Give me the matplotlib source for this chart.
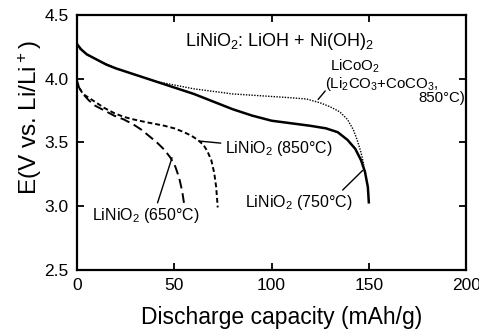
import matplotlib
matplotlib.use('Agg')
import matplotlib.pyplot as plt

plt.rcParams['font.family'] = ['Liberation Sans', 'DejaVu Sans']

# LiNiO2 (750C) - solid
cap_750 = [0, 2, 5, 10, 15, 20, 30, 40, 50, 60, 70, 80, 90, 100, 110, 120, 128,
           134, 139, 143, 146, 148, 149.5, 150]
e_750 = [4.27, 4.23, 4.19, 4.15, 4.11, 4.08, 4.03, 3.98, 3.93, 3.88, 3.82, 3.76,
         3.71, 3.67, 3.65, 3.63, 3.61, 3.58, 3.52, 3.45, 3.36, 3.27, 3.15, 3.03]

# LiCoO2 (Li2CO3 + CoCO3, 850C) - dotted
cap_co = [0, 5, 10, 20, 30, 40, 50, 60, 70, 80, 90, 100, 110, 118, 125, 130,
          135, 139, 142, 144, 146, 147.5]
e_co = [4.25, 4.19, 4.15, 4.08, 4.03, 3.98, 3.95, 3.92, 3.90, 3.88, 3.87, 3.86,
        3.85, 3.84, 3.81, 3.78, 3.74, 3.68, 3.60, 3.52, 3.42, 3.32]

# LiNiO2 (850C) - short dashes
cap_850 = [0, 1, 3, 6, 9, 14, 19, 24, 29, 35, 40, 45, 50, 55, 59, 62, 65, 67,
           69, 70.5, 71.5, 72, 72.3]
e_850 = [3.98, 3.93, 3.88, 3.85, 3.82, 3.77, 3.73, 3.70, 3.68, 3.66, 3.645, 3.63,
         3.61, 3.58, 3.55, 3.52, 3.48, 3.43, 3.36, 3.26, 3.15, 3.05, 2.99]

# LiNiO2 (650C) - long dashes
cap_650 = [0, 1, 3, 6, 9, 14, 19, 24, 29, 33, 37, 41, 45, 48, 50.5, 52.5, 54, 55]
e_650 = [3.97, 3.93, 3.88, 3.83, 3.79, 3.75, 3.71, 3.68, 3.64, 3.60, 3.55, 3.50,
         3.44, 3.38, 3.31, 3.22, 3.12, 3.02]

fig = plt.figure(figsize=(4.79, 3.30), dpi=100)
ax = fig.add_axes([0.161, 0.182, 0.812, 0.773])

ax.plot(cap_750, e_750, color='black', lw=1.8, ls='-')
ax.plot(cap_co, e_co, color='black', lw=1.0, ls=(0, (1, 1)))
ax.plot(cap_850, e_850, color='black', lw=1.4, ls=(0, (2.5, 1.5)))
ax.plot(cap_650, e_650, color='black', lw=1.4, ls=(0, (5, 2.5)))

ax.set_xlim(0, 200)
ax.set_ylim(2.5, 4.5)
ax.set_xticks([0, 50, 100, 150, 200])
ax.set_yticks([2.5, 3.0, 3.5, 4.0, 4.5])
ax.set_yticklabels(['2.5', '3.0', '3.5', '4.0', '4.5'])
ax.tick_params(direction='in', top=True, right=True, length=5, width=1.3,
               labelsize=12.5, pad=6)
for s in ax.spines.values():
    s.set_linewidth(1.6)

ax.set_xlabel('Discharge capacity (mAh/g)', fontsize=16.5)
ax.xaxis.set_label_coords(0.527, -0.14)
ax.set_ylabel(r'E(V vs. Li/Li$\mathregular{^+}$)', fontsize=17.5)
ax.yaxis.set_label_coords(-0.085, 0.6)

ts = 11.5
ax.text(55.5, 4.29, r'LiNiO$\mathregular{_2}$: LiOH + Ni(OH)$\mathregular{_2}$', fontsize=13,
        va='center', ha='left')
ax.text(130, 4.095, r'LiCoO$\mathregular{_2}$', fontsize=10.8, va='center', ha='left')
ax.text(127.5, 3.958, r'(Li$\mathregular{_2}$CO$\mathregular{_3}$+CoCO$\mathregular{_3}$,',
        fontsize=10.8, va='center', ha='left')
ax.text(199.5, 3.85, '850°C)', fontsize=10.8, va='center', ha='right')
ax.annotate('', xy=(123, 3.82), xytext=(128.5, 3.92),
            arrowprops=dict(arrowstyle='-', color='black', lw=1))

ax.annotate(r'LiNiO$\mathregular{_2}$ (850°C)', xy=(63.2, 3.51), xytext=(76, 3.45),
            fontsize=ts, va='center', ha='left',
            arrowprops=dict(arrowstyle='-', color='black', lw=1, shrinkA=1, shrinkB=0))
ax.annotate(r'LiNiO$\mathregular{_2}$ (650°C)', xy=(48.8, 3.38), xytext=(7.7, 2.93),
            fontsize=ts, va='center', ha='left',
            arrowprops=dict(arrowstyle='-', color='black', lw=1, shrinkA=0, shrinkB=0,
                            relpos=(0.6, 1.0)))
ax.annotate(r'LiNiO$\mathregular{_2}$ (750°C)', xy=(146.8, 3.28), xytext=(86.4, 3.03),
            fontsize=ts, va='center', ha='left',
            arrowprops=dict(arrowstyle='-', color='black', lw=1, shrinkA=0, shrinkB=0,
                            relpos=(0.88, 1.0)))

plt.savefig('out.png', dpi=100)
